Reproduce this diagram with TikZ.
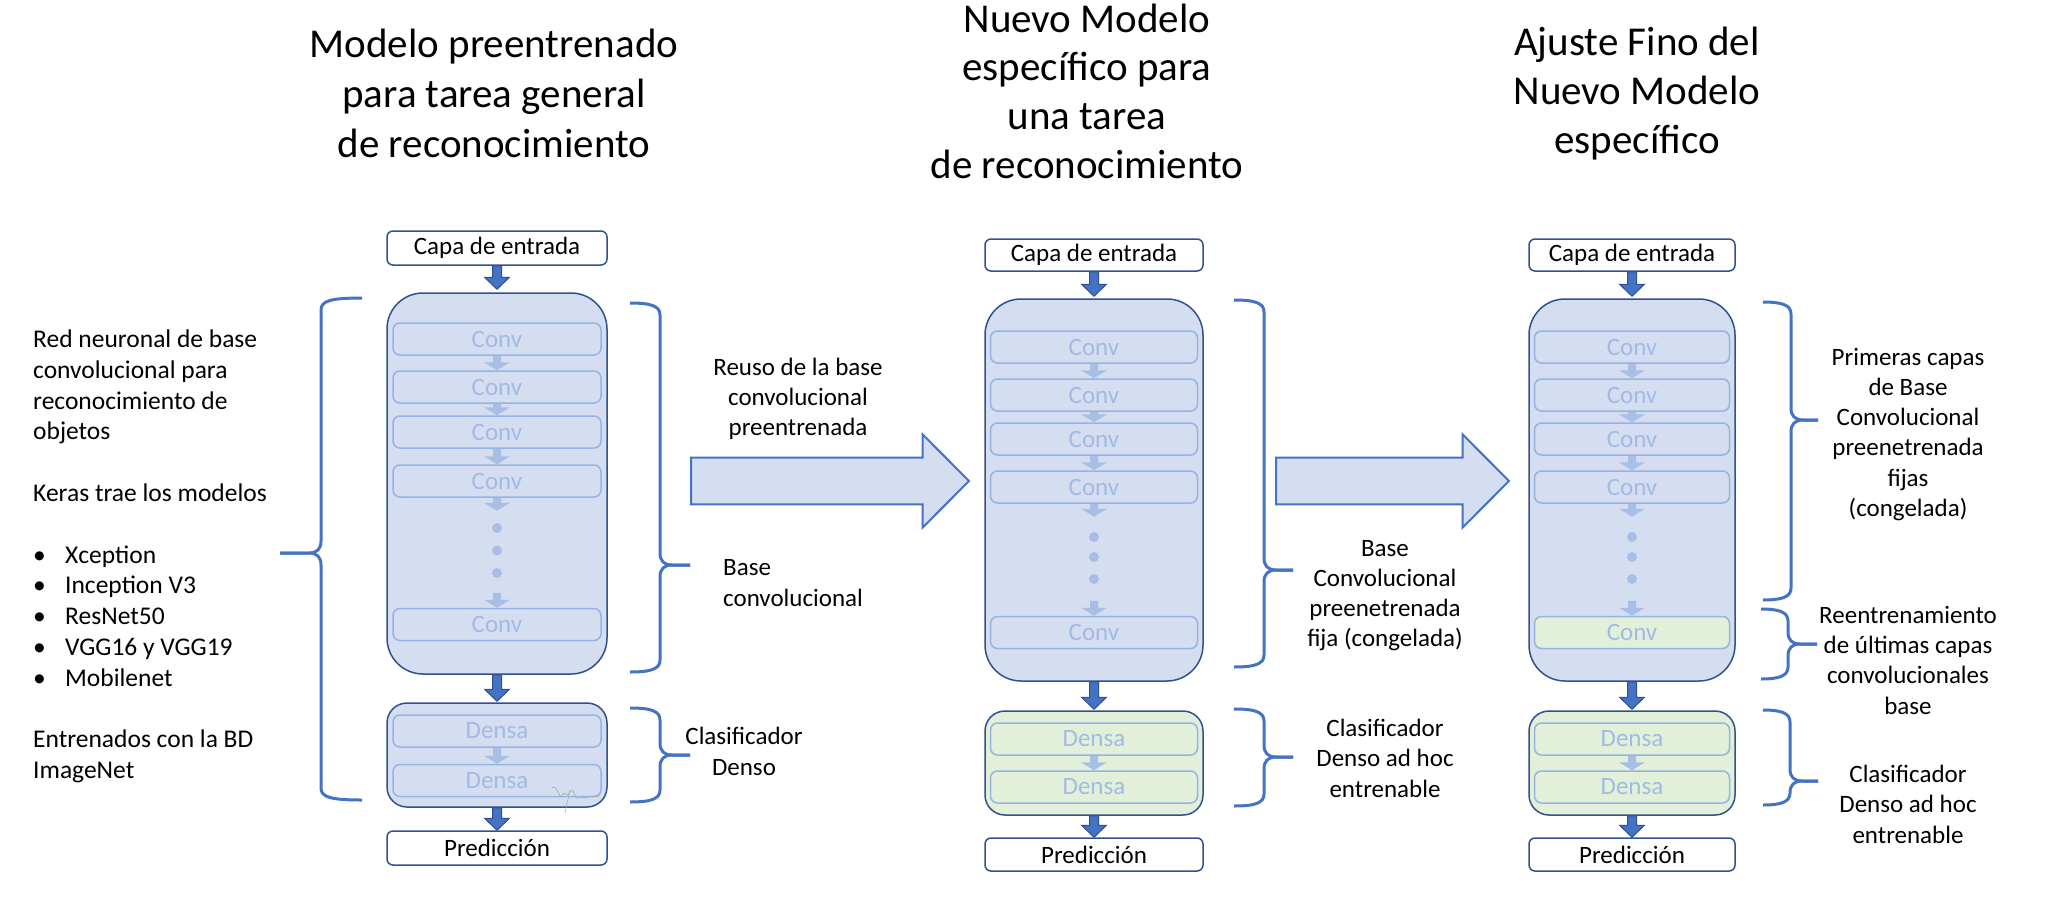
\documentclass[tikz,border=0pt]{standalone}
\usepackage{fontspec}
\setmainfont{Carlito}
\usetikzlibrary{calc}
\definecolor{mainfill}{HTML}{D5DDF0}
\definecolor{mainedge}{HTML}{2F528F}
\definecolor{inneredge}{HTML}{95B3E3}
\definecolor{convtext}{HTML}{A3BAE4}
\definecolor{smallarr}{HTML}{A9BEE5}
\definecolor{greenfill}{HTML}{E2F0D9}
\definecolor{accent}{HTML}{4472C4}
\newcommand\fLbl{\fontsize{25}{30}\selectfont}
\newcommand\fLeft{\fontsize{25.5}{31}\selectfont}
\newcommand\fTitle{\fontsize{41}{49}\selectfont}
\newcommand\mlines[6]{\foreach \txt [count=\i from 0] in {#6} {\node[#2] (#1\i) at (#3,{#4+\i*#5}) {\txt};}}
% x0, xv, xt, ytop, ytip, ybot, sign (1 = tip to the right)
\newcommand\bracepath[7]{%
 \draw[bracestyle] (#1,#4) .. controls ({#2-9*(#7)},#4) and (#2,{#4+3}) .. (#2,{#4+12})
   -- (#2,{#5-12}) .. controls (#2,{#5-4}) and ({#2+4*(#7)},#5) .. ({#2+12*(#7)},#5) -- (#3,#5);
 \draw[bracestyle] (#3,#5) -- ({#2+12*(#7)},#5) .. controls ({#2+4*(#7)},#5) and (#2,{#5+4}) .. (#2,{#5+12})
   -- (#2,{#6-12}) .. controls (#2,{#6-3}) and ({#2-9*(#7)},#6) .. (#1,#6);}
\begin{document}
\begin{tikzpicture}[x=1pt,y=-1pt,
  iobox/.style={draw=mainedge, line width=1.5pt, fill=white, rounded corners=6pt, inner sep=0pt, font=\fLbl},
  basebox/.style={draw=mainedge, line width=1.5pt, fill=mainfill, rounded corners=36pt, inner sep=0pt},
  densebox/.style={draw=mainedge, line width=1.5pt, fill=mainfill, rounded corners=20pt, inner sep=0pt},
  layer/.style={draw=inneredge, line width=1.5pt, fill=mainfill, rounded corners=7pt, inner sep=0pt, text=convtext, font=\fLbl, minimum height=32pt},
  greenish/.style={fill=greenfill},
  lbl/.style={anchor=base, inner sep=0pt, font=\fLbl},
  lt/.style={anchor=base west, inner sep=0pt, font=\fLeft},
  ttl/.style={anchor=base, inner sep=0pt, font=\fTitle},
  bracestyle/.style={draw=accent, line width=3pt, line join=round},
  dotstyle/.style={fill=smallarr},
  fatdown/.style={fill=accent, draw=mainedge, line width=1pt, line join=miter,
    to path={let \p1=(\tikztostart), \p2=(\tikztotarget) in
      (\x1-4.5pt,\y1) -- (\x1-4.5pt,\y2+12pt) -- (\x1-12.5pt,\y2+12pt) -- (\x1,\y2)
      -- (\x1+12.5pt,\y2+12pt) -- (\x1+4.5pt,\y2+12pt) -- (\x1+4.5pt,\y1) -- cycle}},
  smalldown/.style={fill=smallarr, draw=none,
    to path={let \p1=(\tikztostart), \p2=(\tikztotarget) in
      (\x1-4pt,\y1) -- (\x1-4pt,\y2+8pt) -- (\x1-13pt,\y2+8pt) -- (\x1,\y2)
      -- (\x1+13pt,\y2+8pt) -- (\x1+4pt,\y2+8pt) -- (\x1+4pt,\y1) -- cycle}},
  bigright/.style={fill=mainfill, draw=accent, line width=2pt, line join=miter,
    to path={let \p1=(\tikztostart), \p2=(\tikztotarget) in
      (\x1,\y1+23.3pt) -- (\x2-46.3pt,\y1+23.3pt) -- (\x2-46.3pt,\y1+46.5pt) -- (\x2,\y2)
      -- (\x2-46.3pt,\y1-46.5pt) -- (\x2-46.3pt,\y1-23.3pt) -- (\x1,\y1-23.3pt) -- cycle}}
]
\useasboundingbox (0,0) rectangle (2054,910);

% ---------------- Titles
\mlines{ta}{ttl}{494}{57}{50}{Modelo preentrenado,para tarea general,de reconocimiento}
\mlines{tb}{ttl}{1087}{32}{48.7}{Nuevo Modelo,específico para,una tarea,de reconocimiento}
\mlines{tc}{ttl}{1637}{55}{49}{Ajuste Fino del,Nuevo Modelo,específico}

% ---------------- Column 1
\node[iobox, minimum width=220pt, minimum height=34pt] (capa1) at (497,248) {Capa de entrada};
\node[basebox, minimum width=220pt, minimum height=381pt] (base1) at (497,483.5) {};
\node[layer, minimum width=208pt] (c11) at (497,339) {Conv};
\node[layer, minimum width=208pt] (c12) at (497,387) {Conv};
\node[layer, minimum width=208pt] (c13) at (497,432) {Conv};
\node[layer, minimum width=208pt] (c14) at (497,481) {Conv};
\node[layer, minimum width=208pt] (c15) at (497,624.5) {Conv};
\node[densebox, minimum width=220pt, minimum height=104pt] (dense1) at (497,755) {};
\node[layer, minimum width=208pt] (d11) at (497,731) {Densa};
\node[layer, minimum width=208pt] (d12) at (497,780.5) {Densa};
\node[iobox, minimum width=220pt, minimum height=34pt] (pred1) at (497,848) {Predicción};
\foreach \yy in {528,550.5,573} \fill[dotstyle] (497,\yy) circle (5pt);
\path[smalldown] (c11.south) to (c12.north);
\path[smalldown] (c12.south) to (c13.north);
\path[smalldown] (c13.south) to (c14.north);
\path[smalldown] (c14.south) to ([yshift=-13pt]c14.south);
\path[smalldown] ([yshift=15pt]c15.north) to (c15.north);
\path[smalldown] (d11.south) to (d12.north);
\draw[fatdown] (capa1.south) to ([yshift=3pt]base1.north);
\draw[fatdown] (base1.south) to ([yshift=1pt]dense1.north);
\draw[fatdown] (dense1.south) to (pred1.north);
% signature
\draw[gray!70, line width=0.6pt] (552,788) .. controls (556,783) and (560,800) .. (562,796)
  .. controls (565,788) and (566,800) .. (570,792) .. controls (574,785) and (574,800) .. (578,798)
  -- (600,796);
\draw[gray!70, line width=0.5pt] (570,790) -- (565,813);

% ---------------- Column 2
\node[iobox, minimum width=218pt, minimum height=32pt] (capa2) at (1094,255) {Capa de entrada};
\node[basebox, minimum width=218pt, minimum height=382pt] (base2) at (1094,490) {};
\node[layer, minimum width=207pt] (c21) at (1094,347) {Conv};
\node[layer, minimum width=207pt] (c22) at (1094,395) {Conv};
\node[layer, minimum width=207pt] (c23) at (1094,439) {Conv};
\node[layer, minimum width=207pt] (c24) at (1094,487) {Conv};
\node[layer, minimum width=207pt] (c25) at (1094,632.5) {Conv};
\node[densebox, greenish, minimum width=218pt, minimum height=104pt] (dense2) at (1094,763) {};
\node[layer, greenish, minimum width=207pt] (d21) at (1094,739) {Densa};
\node[layer, greenish, minimum width=207pt] (d22) at (1094,787) {Densa};
\node[iobox, minimum width=218pt, minimum height=33pt] (pred2) at (1094,854.5) {Predicción};
\foreach \yy in {537,557,579} \fill[dotstyle] (1094,\yy) circle (5pt);
\path[smalldown] (c21.south) to (c22.north);
\path[smalldown] (c22.south) to (c23.north);
\path[smalldown] (c23.south) to (c24.north);
\path[smalldown] (c24.south) to ([yshift=-13pt]c24.south);
\path[smalldown] ([yshift=15pt]c25.north) to (c25.north);
\path[smalldown] (d21.south) to (d22.north);
\draw[fatdown] (capa2.south) to ([yshift=2pt]base2.north);
\draw[fatdown] (base2.south) to ([yshift=1pt]dense2.north);
\draw[fatdown] (dense2.south) to (pred2.north);

% ---------------- Column 3
\node[iobox, minimum width=206pt, minimum height=32pt] (capa3) at (1632,255) {Capa de entrada};
\node[basebox, minimum width=206pt, minimum height=382pt] (base3) at (1632,490) {};
\node[layer, minimum width=195pt] (c31) at (1632,347) {Conv};
\node[layer, minimum width=195pt] (c32) at (1632,395) {Conv};
\node[layer, minimum width=195pt] (c33) at (1632,439) {Conv};
\node[layer, minimum width=195pt] (c34) at (1632,487) {Conv};
\node[layer, greenish, minimum width=195pt] (c35) at (1632,632.5) {Conv};
\node[densebox, greenish, minimum width=206pt, minimum height=104pt] (dense3) at (1632,763) {};
\node[layer, greenish, minimum width=195pt] (d31) at (1632,739) {Densa};
\node[layer, greenish, minimum width=195pt] (d32) at (1632,787) {Densa};
\node[iobox, minimum width=206pt, minimum height=33pt] (pred3) at (1632,854.5) {Predicción};
\foreach \yy in {537,557,579} \fill[dotstyle] (1632,\yy) circle (5pt);
\path[smalldown] (c31.south) to (c32.north);
\path[smalldown] (c32.south) to (c33.north);
\path[smalldown] (c33.south) to (c34.north);
\path[smalldown] (c34.south) to ([yshift=-13pt]c34.south);
\path[smalldown] ([yshift=15pt]c35.north) to (c35.north);
\path[smalldown] (d31.south) to (d32.north);
\draw[fatdown] (capa3.south) to ([yshift=2pt]base3.north);
\draw[fatdown] (base3.south) to ([yshift=1pt]dense3.north);
\draw[fatdown] (dense3.south) to (pred3.north);

% ---------------- Big arrows
\coordinate (r1s) at (691,481);
\coordinate (r1e) at (969,481);
\coordinate (r2s) at (1276,481);
\coordinate (r2e) at (1509,481);
\draw[bigright] (r1s) to (r1e);
\draw[bigright] (r2s) to (r2e);
\mlines{reuso}{lbl}{798}{375}{30}{Reuso de la base,convolucional,preentrenada}

% ---------------- Braces
\bracepath{362}{321}{280}{298}{553}{800}{-1}
\bracepath{630}{660}{690}{303}{565}{672}{1}
\bracepath{630}{660}{690}{708}{755}{802}{1}
\bracepath{1234}{1264}{1293}{300}{570}{667}{1}
\bracepath{1234}{1264}{1293}{709}{757}{806}{1}
\bracepath{1763}{1791}{1818}{302}{420}{600}{1}
\bracepath{1761}{1788}{1817}{609}{644}{679}{1}
\bracepath{1763}{1790}{1818}{710}{781}{805}{1}

% ---------------- Labels by braces
\node[lt, font=\fLbl] (bc1a) at (723,575) {Base};
\node[lt, font=\fLbl] (bc1b) at (723,606) {convolucional};
\mlines{cd1}{lbl}{744}{744}{31}{Clasificador,Denso}
\mlines{bc2}{lbl}{1385}{556}{30}{Base,Convolucional,preenetrenada,fija (congelada)}
\mlines{cd2}{lbl}{1385}{736}{30.5}{Clasificador,Denso ad hoc,entrenable}
\mlines{pc3}{lbl}{1908}{365}{30.3}{Primeras capas,de Base,Convolucional,preenetrenada,fijas,(congelada)}
\mlines{re3}{lbl}{1908}{623}{30.4}{Reentrenamiento,de últimas capas,convolucionales,base}
\mlines{cd3}{lbl}{1908}{782}{30.5}{Clasificador,Denso ad hoc,entrenable}

% ---------------- Left description
\node[lt] (l1) at (33,347.5) {Red neuronal de base};
\node[lt] (l2) at (33,378.3) {convolucional para};
\node[lt] (l3) at (33,409.1) {reconocimiento de};
\node[lt] (l4) at (33,439.9) {objetos};
\node[lt] (l5) at (33,501.5) {Keras trae los modelos};
\node[lt] (l6) at (33,563.1) {\makebox[32pt][l]{•}Xception};
\node[lt] (l7) at (33,593.9) {\makebox[32pt][l]{•}Inception V3};
\node[lt] (l8) at (33,624.7) {\makebox[32pt][l]{•}ResNet50};
\node[lt] (l9) at (33,655.5) {\makebox[32pt][l]{•}VGG16 y VGG19};
\node[lt] (l10) at (33,686.3) {\makebox[32pt][l]{•}Mobilenet};
\node[lt] (l11) at (33,747.9) {Entrenados con la BD};
\node[lt] (l12) at (33,778.7) {ImageNet};
\end{tikzpicture}
\end{document}
